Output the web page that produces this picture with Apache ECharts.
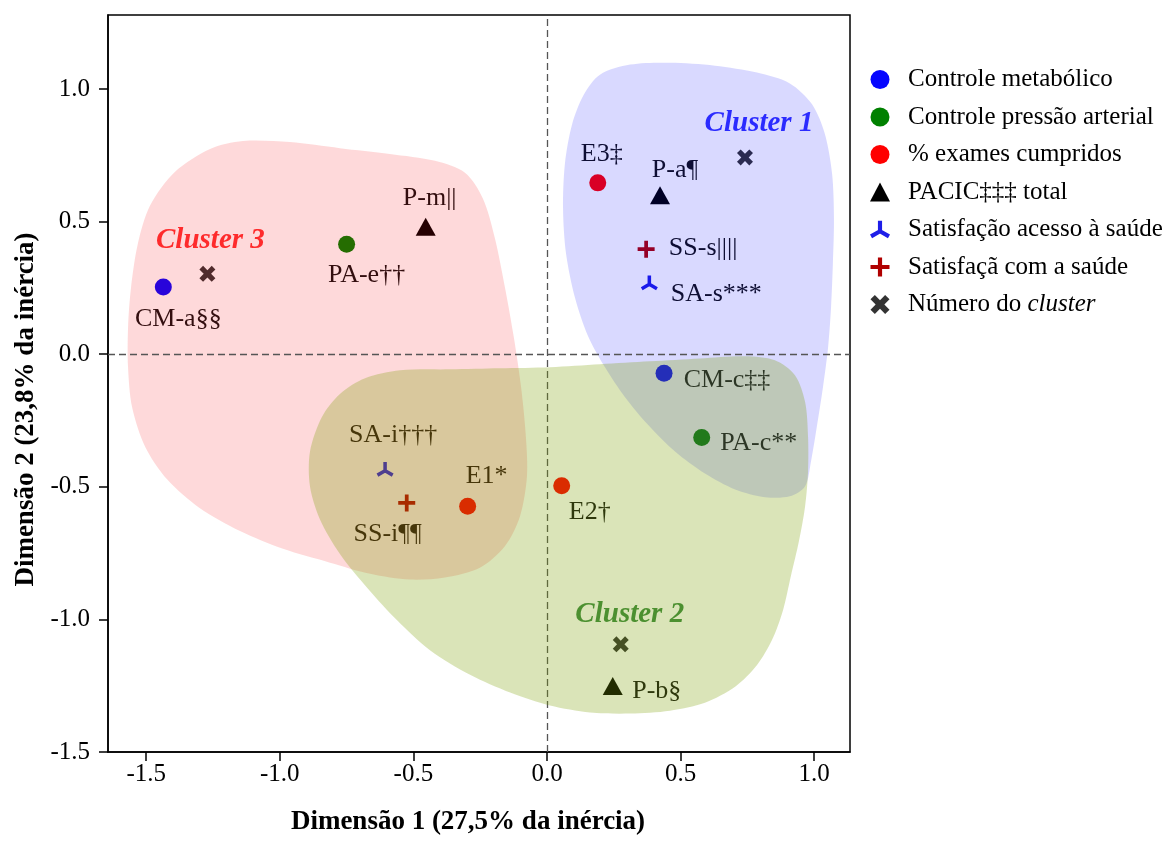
<!DOCTYPE html>
<html><head><meta charset="utf-8">
<script src="https://cdn.jsdelivr.net/npm/echarts@6/dist/echarts.min.js"></script>
<style>html,body{margin:0;padding:0;background:#fff}#c{width:1167px;height:841px}</style>
</head><body><div id="c"></div>
<script>
const FONT = '"Liberation Serif","Times New Roman",serif';

// ---- data (Dimensão 1, Dimensão 2) ----
const cmNames = ['CM-a§§', 'CM-c‡‡'];
const cmX = [-1.436, 0.438];
const cmY = [0.253, -0.072];

const paNames = ['PA-e††', 'PA-c**'];
const paX = [-0.750, 0.579];
const paY = [0.415, -0.314];

const exNames = ['E1*', 'E2†', 'E3‡'];
const exX = [-0.297, 0.055, 0.190];
const exY = [-0.573, -0.496, 0.646];

const pacicNames = ['P-m||', 'P-a¶', 'P-b§'];
const pacicX = [-0.454, 0.423, 0.246];
const pacicY = [0.481, 0.599, -1.251];

const saNames = ['SA-i†††', 'SA-s***'];
const saX = [-0.606, 0.383];
const saY = [-0.434, 0.269];

const ssNames = ['SS-i¶¶', 'SS-s||||'];
const ssX = [-0.525, 0.371];
const ssY = [-0.561, 0.396];

const clusterNames = ['Cluster 1', 'Cluster 2', 'Cluster 3'];
const clusterX = [0.741, 0.276, -1.271];
const clusterY = [0.742, -1.094, 0.303];

const xTicks = [-1.5, -1.0, -0.5, 0.0, 0.5, 1.0];
const yTicks = [-1.5, -1.0, -0.5, 0.0, 0.5, 1.0];

// cluster hull outlines (data units)
const hull3 = [[-1.261,0.774],[-1.138,0.804],[-0.962,0.800],[-0.775,0.777],[-0.588,0.755],[-0.419,0.729],[-0.307,0.684],[-0.240,0.587],[-0.195,0.437],[-0.157,0.250],[-0.124,0.063],[-0.097,-0.124],[-0.079,-0.311],[-0.075,-0.461],[-0.101,-0.611],[-0.157,-0.723],[-0.251,-0.805],[-0.382,-0.842],[-0.513,-0.850],[-0.662,-0.828],[-0.812,-0.786],[-0.988,-0.734],[-1.149,-0.667],[-1.299,-0.581],[-1.422,-0.472],[-1.504,-0.349],[-1.553,-0.199],[-1.568,-0.049],[-1.568,0.100],[-1.557,0.250],[-1.531,0.418],[-1.486,0.560],[-1.392,0.688]];
const hull1 = [[0.198,1.054],[0.311,1.092],[0.460,1.099],[0.629,1.088],[0.786,1.062],[0.909,1.021],[0.992,0.942],[1.040,0.830],[1.067,0.680],[1.074,0.512],[1.070,0.343],[1.063,0.175],[1.052,0.025],[1.033,-0.124],[1.010,-0.273],[0.988,-0.405],[0.966,-0.498],[0.909,-0.536],[0.816,-0.539],[0.704,-0.510],[0.591,-0.450],[0.479,-0.367],[0.378,-0.266],[0.292,-0.162],[0.217,-0.049],[0.153,0.070],[0.105,0.212],[0.071,0.381],[0.060,0.549],[0.067,0.718],[0.094,0.867],[0.138,0.979]];
const hull2 = [[-0.550,-0.061],[-0.363,-0.057],[-0.176,-0.053],[0.011,-0.049],[0.198,-0.038],[0.385,-0.027],[0.573,-0.016],[0.741,-0.008],[0.853,-0.023],[0.928,-0.079],[0.966,-0.180],[0.977,-0.311],[0.977,-0.442],[0.966,-0.573],[0.943,-0.704],[0.913,-0.835],[0.883,-0.966],[0.842,-1.078],[0.786,-1.172],[0.704,-1.254],[0.591,-1.314],[0.460,-1.344],[0.311,-1.355],[0.161,-1.351],[0.011,-1.325],[-0.138,-1.276],[-0.288,-1.209],[-0.438,-1.116],[-0.561,-1.003],[-0.670,-0.884],[-0.775,-0.753],[-0.850,-0.622],[-0.887,-0.499],[-0.887,-0.367],[-0.842,-0.236],[-0.775,-0.150],[-0.681,-0.091]];

// ---- label placement (pixels, relative to marker) ----
const labelOffset = {
  'CM-a§§':[15,32], 'CM-c‡‡':[63,7], 'PA-e††':[20,31], 'PA-c**':[57,6],
  'E1*':[19,-30], 'E2†':[28,26], 'E3‡':[4,-29],
  'P-m||':[4,-28], 'P-a¶':[15,-25], 'P-b§':[44,5],
  'SA-i†††':[8,-34], 'SA-s***':[67,11], 'SS-i¶¶':[-19,31], 'SS-s||||':[57,-1],
  'Cluster 1':[14,-34], 'Cluster 2':[9,-30], 'Cluster 3':[3,-33]
};
const clusterColor = {'Cluster 1':'#0000ff', 'Cluster 2':'#0a6e14', 'Cluster 3':'#ff0000'};

const TRI = 'path://M40 0 L60 0 L60 50 L40 50 Z M45 41.34 L55 58.66 L11.7 83.66 L1.7 66.34 Z M55 41.34 L98.3 66.34 L88.3 83.66 L45 58.66 Z';
const PLUS = 'path://M39 0 L61 0 L61 39 L100 39 L100 61 L61 61 L61 100 L39 100 L39 61 L0 61 L0 39 L39 39 Z';
const CROSS = 'path://M0 23 L23 0 L50 27 L77 0 L100 23 L73 50 L100 77 L77 100 L50 73 L23 100 L0 77 L27 50 Z';

function pts(names, xs, ys) {
  return names.map((n, i) => ({
    name: n, value: [xs[i], ys[i]],
    label: {offset: labelOffset[n]}
  }));
}
const baseLabel = {show:true, position:'inside', formatter:'{b}', fontFamily:FONT, fontSize:26,
  color:'#111', align:'center', verticalAlign:'middle'};

function scatter(name, data, symbol, size, color) {
  return {type:'scatter', name, data, symbol, symbolSize:size, symbolKeepAspect:true,
    itemStyle:{color, opacity:1}, label:baseLabel, z:2, silent:true};
}
function blob(name, hull, fill, z) {
  return {type:'custom', name, z, silent:true, data:[[0,0]],
    renderItem:(params, api) => ({
      type:'polygon',
      shape:{points: hull.map(p => api.coord(p)), smooth:0.3},
      style:{fill}
    })};
}

const clusterData = clusterNames.map((n, i) => ({
  name:n, value:[clusterX[i], clusterY[i]],
  label:{offset:labelOffset[n], color:clusterColor[n]}
}));

const legendNames = ['Controle metabólico','Controle pressão arterial','% exames cumpridos',
  'PACIC‡‡‡ total','Satisfação acesso à saúde','Satisfaçã com a saúde','Número do cluster'];

const option = {
  animation:false,
  backgroundColor:'#fff',
  grid:{left:108, right:317, top:15, bottom:83, show:true, borderColor:'#000', borderWidth:1.5},
  xAxis:{type:'value', min:-1.643, max:1.134,
    name:'Dimensão 1 (27,5% da inércia)', nameLocation:'middle', nameGap:57,
    nameTextStyle:{fontFamily:FONT, fontSize:27, fontWeight:'bold', color:'#000', padding:[0,22,0,0]},
    axisLine:{show:true, onZero:false, lineStyle:{color:'#000', width:1.5}},
    axisTick:{show:true, length:9, customValues:xTicks, lineStyle:{color:'#000', width:1.5}},
    axisLabel:{customValues:xTicks, formatter:v=>Number(v).toFixed(1), fontFamily:FONT, fontSize:25, color:'#000', margin:10},
    splitLine:{show:false}},
  yAxis:{type:'value', min:-1.5, max:1.279,
    name:'Dimensão 2 (23,8% da inércia)', nameLocation:'middle', nameGap:68, nameRotate:90,
    nameTextStyle:{fontFamily:FONT, fontSize:27, fontWeight:'bold', color:'#000', padding:[0,52,0,0]},
    axisLine:{show:true, onZero:false, lineStyle:{color:'#000', width:1.5}},
    axisTick:{show:true, length:9, customValues:yTicks, lineStyle:{color:'#000', width:1.5}},
    axisLabel:{customValues:yTicks, formatter:v=>Number(v).toFixed(1), fontFamily:FONT, fontSize:25, color:'#000', margin:18},
    splitLine:{show:false}},
  legend:{data:legendNames, orient:'vertical', left:865, top:62, itemWidth:20, itemHeight:19, itemGap:12.5,
    selectedMode:false,
    formatter:n => n === 'Número do cluster' ? '{n|Número do }{i|cluster}' : n,
    textStyle:{fontFamily:FONT, fontSize:25, lineHeight:25, color:'#000', padding:[0,0,0,13],
      rich:{n:{fontFamily:FONT, fontSize:25, color:'#000'}, i:{fontFamily:FONT, fontSize:25, fontStyle:'italic', color:'#000'}}}},
  series:[
    scatter('Controle metabólico', pts(cmNames, cmX, cmY), 'circle', 17, '#0505ff'),
    scatter('Controle pressão arterial', pts(paNames, paX, paY), 'circle', 17, '#008000'),
    scatter('% exames cumpridos', pts(exNames, exX, exY), 'circle', 17, '#ff0000'),
    scatter('PACIC‡‡‡ total', pts(pacicNames, pacicX, pacicY), 'triangle', [20,18], '#000000'),
    scatter('Satisfação acesso à saúde', pts(saNames, saX, saY), TRI, 17, '#1e1ee8'),
    scatter('Satisfaçã com a saúde', pts(ssNames, ssX, ssY), PLUS, 17, '#b00000'),
    {type:'scatter', name:'Número do cluster', data:clusterData, symbol:CROSS, symbolSize:16, symbolKeepAspect:true,
      itemStyle:{color:'#000'}, z:2, silent:true,
      label:{show:true, position:'inside', formatter:'{b}', fontFamily:FONT, fontSize:29, fontWeight:'bold', fontStyle:'italic',
        align:'center', verticalAlign:'middle'}},
    blob('hull3', hull3, 'rgba(250,0,5,0.15)', 3),
    blob('hull1', hull1, 'rgba(0,0,255,0.15)', 4),
    blob('hull2', hull2, 'rgba(123,159,0,0.28)', 5),
    {type:'scatter', name:'zeroLines', data:[], z:6, silent:true,
      markLine:{silent:true, symbol:['none','none'], label:{show:false}, animation:false,
        lineStyle:{color:'#555', type:[7,4], width:1.3},
        data:[{xAxis:0},{yAxis:0}]}}
  ]
};
const chart = echarts.init(document.getElementById('c'));
chart.setOption(option);
</script></body></html>
